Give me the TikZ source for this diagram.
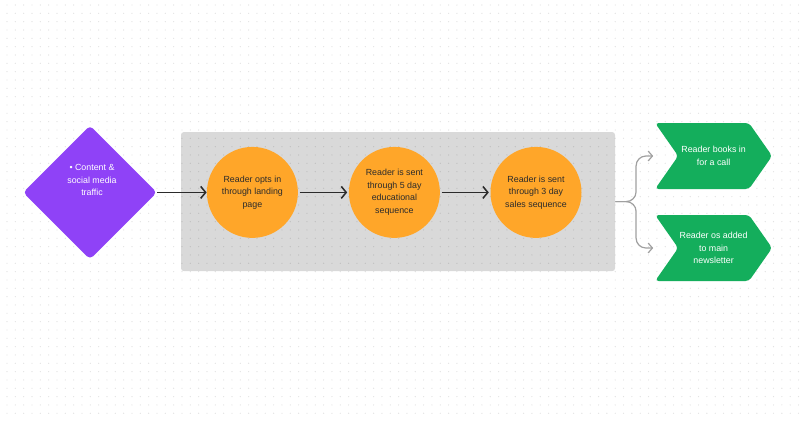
\documentclass[tikz,border=0pt]{standalone}
\usepackage{fontspec}
\setmainfont{Liberation Sans}
\usetikzlibrary{positioning, shapes.geometric, shapes.symbols, arrows.meta, calc}
\definecolor{src-color}{HTML}{8F42F7}
\definecolor{step-color}{HTML}{FFA629}
\definecolor{out-color}{HTML}{14AE5C}
\definecolor{stage-color}{HTML}{D9D9D9}
\definecolor{link-color}{HTML}{A0A0A0}
\definecolor{ink-color}{HTML}{2B2B2B}

\begin{document}
\begin{tikzpicture}[
    % Node styles
    srcbox/.style={diamond, fill=src-color, minimum width=3.35cm, minimum height=3.35cm,
                   inner sep=0pt, rounded corners=3pt},
    srclbl/.style={font=\fontsize{6.3}{8.9}\selectfont, text=white, align=center},
    stagebox/.style={fill=stage-color, minimum width=10.85cm, minimum height=3.475cm,
                     inner sep=0pt, rounded corners=2pt},
    stepbox/.style={circle, fill=step-color, minimum size=2.275cm, inner sep=0pt,
                    font=\fontsize{6.3}{8.9}\selectfont, text=ink-color, align=center},
    outbox/.style={signal, signal from=west, signal to=east, signal pointer angle=110,
                   fill=out-color, minimum width=2.925cm, minimum height=1.65cm, inner sep=0pt,
                   rounded corners=2.5pt, font=\fontsize{6.3}{8.9}\selectfont, text=white, align=center},
    arr/.style={-{Straight Barb[length=3.5pt, width=8.5pt]}, line width=1.1pt, ink-color},
    brarr/.style={-{Straight Barb[length=3pt, width=7pt]}, line width=0.85pt, link-color, rounded corners=7pt},
    dot/.style={fill=black, fill opacity=0.11}
]

\def\pw{20}    % page width
\def\ph{10.5}  % page height

\useasboundingbox (0,0) rectangle (\pw,-\ph);
\fill[white] (0,0) rectangle (\pw,-\ph);

% ===== STAGE BACKGROUND =====
\node[stagebox] (stage) at (9.95, -5.04) {};

% dot grid
\foreach \i in {0,...,95} {
    \foreach \j in {0,...,49} {
        \fill[dot] (0.175+\i*0.2083, -0.125-\j*0.2083) circle (0.017);
    }
}

% ===== SOURCE =====
\node[srcbox] (src) at (2.25, -4.81) {};
\node[srclbl] (srctext) at (2.3, -4.51) {\textbullet\ Content \&\\social media\\traffic};

% ===== STEPS =====
\node[stepbox] (optin) at (6.31, -4.81) {Reader opts in\\through landing\\page};
\node[stepbox] (edu) at (9.86, -4.81) {Reader is sent\\through 5 day\\educational\\sequence};
\node[stepbox] (sales) at (13.4, -4.81) {Reader is sent\\through 3 day\\sales sequence};

\draw[arr] (src) -- (optin);
\draw[arr, shorten <=1pt, shorten >=1pt] (optin) -- (edu);
\draw[arr, shorten <=1pt, shorten >=1pt] (edu) -- (sales);

% ===== OUTCOMES =====
\node[outbox] (call) at (17.84, -3.9) {Reader books in\\for a call};
\node[outbox] (news) at (17.84, -6.2) {Reader os added\\to main\\newsletter};

\coordinate (callin) at ([xshift=-1.51cm]call.center);
\coordinate (newsin) at ([xshift=-1.51cm]news.center);

% Split arrows
\draw[brarr] (stage.east) -- ++(0.52,0) |- (callin);
\draw[brarr] (stage.east) -- ++(0.52,0) |- (newsin);

\end{tikzpicture}
\end{document}
